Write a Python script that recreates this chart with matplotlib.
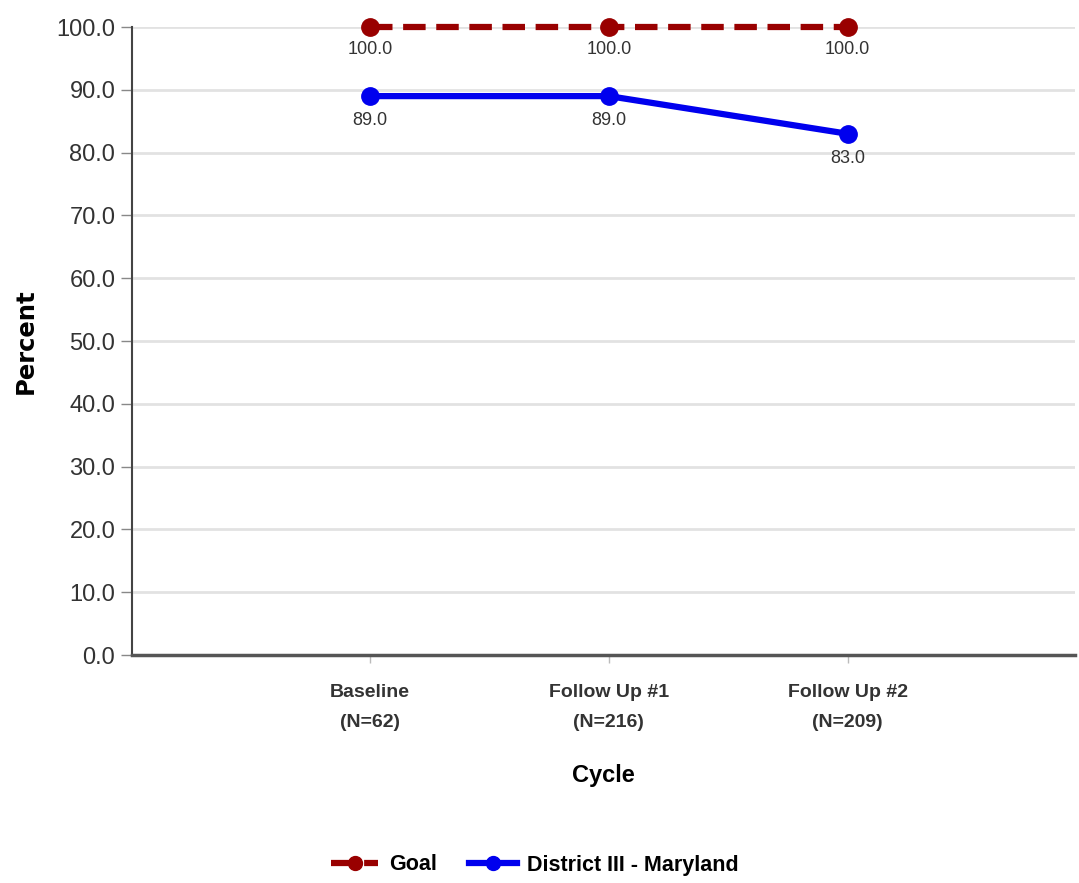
import matplotlib.pyplot as plt
import numpy as np

# data
cycles = ["Baseline\n(N=62)", "Follow Up #1\n(N=216)", "Follow Up #2\n(N=209)"]
goal = [100.0, 100.0, 100.0]
district = [89.0, 89.0, 83.0]
yticks = [0, 10, 20, 30, 40, 50, 60, 70, 80, 90, 100]

FONT = ["Liberation Sans", "DejaVu Sans"]

fig = plt.figure(figsize=(10.79, 8.83), dpi=100)
ax = fig.add_axes([0.1223, 0.2582, 0.8737, 0.7112])

x = np.arange(len(cycles))
ax.plot(x, goal, color="#990000", lw=4.5, ls=(0, (3.6, 1.7)), marker="o", ms=12.5,
        label="Goal", clip_on=False, zorder=3)
ax.plot(x, district, color="#0000ee", lw=4.5, marker="o", ms=12.5,
        label="District III - Maryland", clip_on=False, zorder=3)

for xi, v in zip(x, goal):
    ax.annotate(f"{v:.1f}", (xi, v), xytext=(0, -10), textcoords="offset points",
                ha="center", va="top", fontsize=13, family=FONT, color="#333333")
for xi, v in zip(x, district):
    ax.annotate(f"{v:.1f}", (xi, v), xytext=(0, -11.5), textcoords="offset points",
                ha="center", va="top", fontsize=13, family=FONT, color="#333333")

ax.set_xlim(-0.996, 2.95)
ax.set_ylim(0, 100)
ax.set_yticks(yticks)
ax.set_yticklabels([f"{t:.1f}" for t in yticks], family=FONT, fontsize=17, color="#333333")
ax.set_xticks(x)
ax.set_xticklabels(cycles, family=FONT, fontsize=14, fontweight="bold", color="#333333",
                   linespacing=1.95)
ax.tick_params(axis="y", length=8, width=1, color="#888888", pad=4)
ax.tick_params(axis="x", length=6, width=1, color="#bbbbbb", pad=15)

ax.grid(axis="y", color="#e2e2e2", lw=2)
ax.set_axisbelow(True)
for s in ["top", "right"]:
    ax.spines[s].set_visible(False)
ax.spines["left"].set_color("#444444")
ax.spines["left"].set_linewidth(1.5)
ax.spines["bottom"].set_color("#555555")
ax.spines["bottom"].set_linewidth(2.5)

ax.set_ylabel("Percent", fontsize=17.5, fontweight="bold", labelpad=13)
ax.set_xlabel("Cycle", family=FONT, fontsize=17, fontweight="bold", labelpad=24)

fig.legend(loc="center", bbox_to_anchor=(535 / 1079, 1 - 865 / 883), ncol=2, frameon=False,
           prop={"family": FONT, "size": 15.5, "weight": "bold"}, handlelength=2.2,
           columnspacing=1.5, handletextpad=0.5, markerscale=0.8)

fig.savefig("out.png", dpi=100)
